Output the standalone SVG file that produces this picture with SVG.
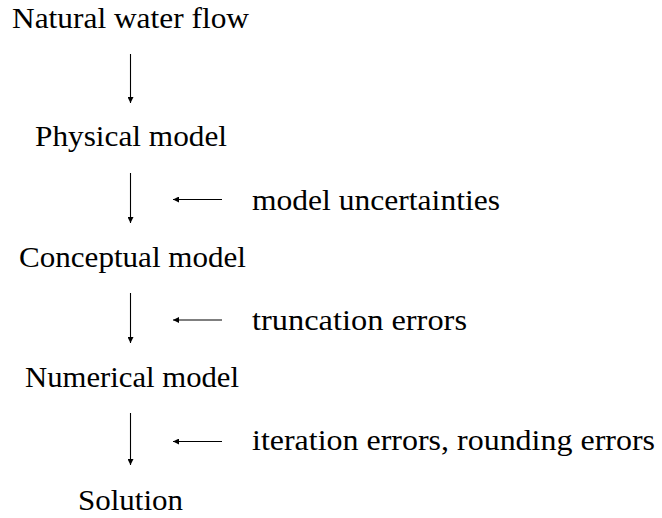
<svg xmlns="http://www.w3.org/2000/svg" width="662" height="518" viewBox="0 0 662 518">
<style>
text{font-family:"Liberation Serif","DejaVu Serif",serif;font-size:29px;fill:#000}
.c line{stroke:#000;stroke-width:1.1}
</style>
<defs>
<marker id="ah" viewBox="0 0 10 10" refX="10" refY="5" markerWidth="8" markerHeight="6" markerUnits="userSpaceOnUse" orient="auto"><path d="M0,0 L10,5 L0,10 Z" fill="#000"/></marker>
</defs>
<rect width="662" height="518" fill="#fff"/>
<g id="natural"><text x="12" y="28" textLength="237" lengthAdjust="spacingAndGlyphs">Natural water flow</text></g>
<g id="physical"><text x="35" y="146" textLength="192" lengthAdjust="spacingAndGlyphs">Physical model</text></g>
<g id="conceptual"><text x="19" y="267" textLength="227" lengthAdjust="spacingAndGlyphs">Conceptual model</text></g>
<g id="numerical"><text x="25" y="387" textLength="214" lengthAdjust="spacingAndGlyphs">Numerical model</text></g>
<g id="solution"><text x="78" y="510" textLength="105" lengthAdjust="spacingAndGlyphs">Solution</text></g>
<g id="uncert"><text x="252" y="210" textLength="248" lengthAdjust="spacingAndGlyphs">model uncertainties</text></g>
<g id="trunc"><text x="252" y="330" textLength="215" lengthAdjust="spacingAndGlyphs">truncation errors</text></g>
<g id="iter"><text x="252" y="450" textLength="403" lengthAdjust="spacingAndGlyphs">iteration errors, rounding errors</text></g>
<g class="c" id="connectors">
<line x1="130.5" y1="54" x2="130.5" y2="103" marker-end="url(#ah)"/>
<line x1="130.5" y1="173" x2="130.5" y2="223" marker-end="url(#ah)"/>
<line x1="130.5" y1="293" x2="130.5" y2="343" marker-end="url(#ah)"/>
<line x1="130.5" y1="413" x2="130.5" y2="465" marker-end="url(#ah)"/>
<line x1="222" y1="199.5" x2="173" y2="199.5" marker-end="url(#ah)"/>
<line x1="222" y1="320" x2="173" y2="320" marker-end="url(#ah)"/>
<line x1="222" y1="441.5" x2="173" y2="441.5" marker-end="url(#ah)"/>
</g>
</svg>
